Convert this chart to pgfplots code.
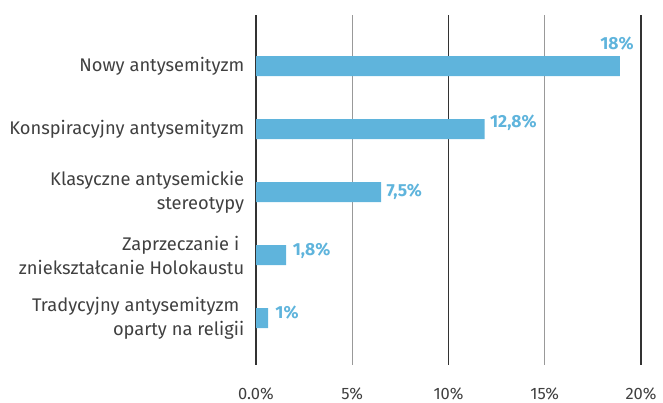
\documentclass[border=0pt]{standalone}
\usepackage{pgfplots}
\pgfplotsset{compat=1.18}
\usepackage{fontspec}
\setmainfont{Fira Sans}
\definecolor{barc}{HTML}{5FB4DC}
\definecolor{txt}{HTML}{404040}
\begin{document}
\begin{tikzpicture}[x=1pt,y=1pt]
\begin{axis}[at={(256pt,38pt)}, anchor=south west, scale only axis,
 width=385pt, height=350pt,
 xbar, bar width=20pt, xmin=0, xmax=20, ymin=-0.746, ymax=4.81,
 axis line style={draw=none}, major tick style={draw=none},
 xtick={0,5,10,15,20}, xticklabels={0.0\%,5\%,10\%,15\%,20\%},
 xmajorgrids, grid style={color=black!40, line width=1.2pt},
 extra x ticks={0,10,20}, extra x tick labels={},
 extra x tick style={grid style={color=black!80, line width=1.2pt}, major tick style={draw=none}},
 ytick={0,1,2,3,4},
 yticklabels={{Tradycyjny antysemityzm\rule{5pt}{0pt}\\oparty na religii},{Zaprzeczanie i\rule{5pt}{0pt}\\zniekształcanie Holokaustu},{Klasyczne antysemickie\\stereotypy},{Konspiracyjny antysemityzm},{Nowy antysemityzm}},
 yticklabel style={align=right, font=\fontsize{18.3}{24}\selectfont, text=txt, xshift=-4pt},
 xticklabel style={font=\fontsize{16.5}{20}\selectfont, text=txt, yshift=-19pt},
 clip=false,
]
\addplot[fill=barc, draw=none] coordinates {(0.63,0) (1.56,1) (6.5,2) (11.88,3) (18.9,4)};
\node[anchor=east, font=\fontsize{17.5}{20}\selectfont\bfseries, text=barc] at (axis cs:19.8,4.36) {18\%};
\node[anchor=west, font=\fontsize{17.5}{20}\selectfont\bfseries, text=barc, inner sep=0pt] at (axis cs:12.15,3.1) {12,8\%};
\node[anchor=west, font=\fontsize{17.5}{20}\selectfont\bfseries, text=barc, inner sep=0pt] at (axis cs:6.78,2.0) {7,5\%};
\node[anchor=west, font=\fontsize{17.5}{20}\selectfont\bfseries, text=barc, inner sep=0pt] at (axis cs:1.9,1.07) {1,8\%};
\node[anchor=west, font=\fontsize{17.5}{20}\selectfont\bfseries, text=barc, inner sep=0pt] at (axis cs:1.0,0.08) {1\%};
\end{axis}
\pgfresetboundingbox
\path (0,0) rectangle (663,403);
\end{tikzpicture}
\end{document}
